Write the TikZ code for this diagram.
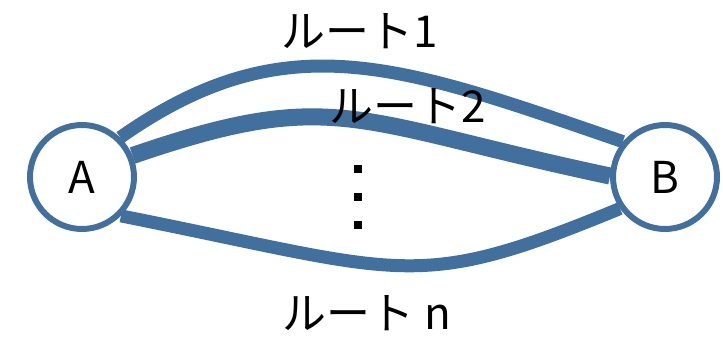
\documentclass[tikz,border=0pt]{standalone}
\usepackage{fontspec}
\setmainfont{Noto Sans CJK JP}
\usepackage{tikz}
\usetikzlibrary{backgrounds}
\definecolor{routeblue}{RGB}{66,112,158}

\begin{document}
\begin{tikzpicture}[
  x=0.02cm, y=-0.02cm,
  city/.style={circle, draw=routeblue, line width=3.4pt, fill=white, minimum size=2.08cm,
               inner sep=0pt, font=\fontsize{25}{30}\selectfont},
  route/.style={draw=routeblue, line width=7.4pt},
  routename/.style={font=\fontsize{25}{30}\selectfont, inner sep=0pt},
]
\useasboundingbox (0,0) rectangle (723,337);
\node[city] (a) at (82,177) {A};
\node[city] (b) at (665,177) {B};
\node[routename] (r1) at (360,31) {ルート1};
\node[routename] (r2) at (408,106) {ルート2};
\node[routename] (rn) at (367,313) {ルート n};
\foreach \y in {169,197,225}
  \fill (354,\y-4) rectangle ++(8,8);
\begin{scope}[on background layer]
\draw[route] (a.46) .. controls (286,21) and (400,65) .. (b.140);
\draw[route, line width=9.7pt] (a.23) .. controls (335,86) and (351,121) .. (b.179);
\draw[route] (a.315) .. controls (408,273) and (413,294) .. (b.215);
\end{scope}
\end{tikzpicture}
\end{document}
